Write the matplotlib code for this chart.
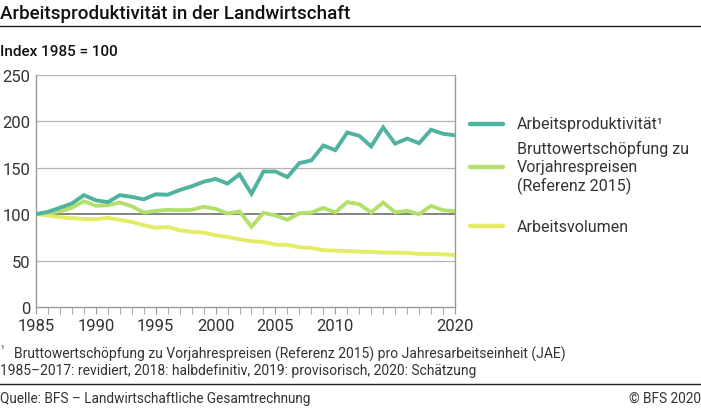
import numpy as np
import matplotlib.pyplot as plt
from matplotlib.lines import Line2D

plt.rcParams['font.family'] = ['Roboto', 'DejaVu Sans']

years = list(range(1985, 2021))
produktivitaet = [100, 102.5, 107, 111.5, 120.5, 115, 113, 120.5, 118.7, 116,
                  121.5, 121, 126, 130, 135, 138, 133, 143, 122, 146,
                  146, 140, 155, 158, 174, 169, 188, 184.5, 173, 193.5,
                  176, 181.5, 176.5, 191, 186.7, 185]
wertschoepfung = [100, 102, 103, 107, 114, 109, 109.7, 112.6, 108.6, 101.8,
                  103.6, 104.7, 104.3, 104.7, 108, 105.8, 100.7, 103, 86.3, 101.4,
                  98.6, 94, 101, 101.8, 106.8, 102, 113, 110.8, 101.8, 112.6,
                  102, 103.6, 100, 109, 104.3, 103.2]
volumen = [100, 98.6, 96.8, 95.7, 95, 94.6, 96, 93.9, 91.7, 88.1,
           85.3, 86.3, 82.7, 81, 80.2, 77.3, 75.5, 73, 70.9, 70.1,
           67.3, 66.9, 64.4, 63.7, 61.2, 60.8, 60.4, 59.7, 59.4, 58.6,
           58.6, 58.3, 57.2, 57.2, 56.8, 55.8]

labels = ["Arbeitsproduktivität¹",
          "Bruttowertschöpfung zu\nVorjahrespreisen\n(Referenz 2015)",
          "Arbeitsvolumen"]
colors = ["#4fb3a0", "#b2e06a", "#e3ec62"]
xtick_years = [1985, 1990, 1995, 2000, 2005, 2010, 2020]
yticks = [0, 50, 100, 150, 200, 250]

fig = plt.figure(figsize=(7.01, 4.10), dpi=100)
ax = fig.add_axes([36 / 701, 1 - 308 / 410, 419 / 701, 232 / 410])

for v in yticks[1:]:
    ax.axhline(v, color="#6e6e6e" if v == 100 else "#b4b4b4",
               lw=1.2 if v == 100 else 0.9, zorder=1)

for series, c in zip([volumen, wertschoepfung, produktivitaet], colors[::-1]):
    ax.plot(years, series, color=c, lw=2.8, zorder=3, solid_joinstyle="miter")

ax.set_xlim(1985, 2020)
ax.set_ylim(0, 250)
ax.set_xticks(xtick_years)
ax.set_xticks(years, minor=True)
ax.set_yticks(yticks)
ax.tick_params(axis="x", which="both", direction="out", length=5, color="#9a9a9a",
               labelsize=12, labelcolor="#333333", pad=3)
ax.tick_params(axis="y", length=0, labelsize=12, labelcolor="#333333", pad=4)
ax.spines["top"].set_visible(False)
for s in ["left", "right", "bottom"]:
    ax.spines[s].set_color("#9a9a9a")
    ax.spines[s].set_linewidth(1.0)

# legend drawn by hand on the right
leg_y = [125, 168, 227]
for lab, c, yp in zip(labels, colors, leg_y):
    fy = 1 - yp / 410
    fig.add_artist(Line2D([470 / 701, 503 / 701], [fy, fy], color=c, lw=3.2,
                          solid_capstyle="round"))
    fig.text(517 / 701, fy, lab, fontsize=11.5, color="#333333", va="center",
             ha="left", linespacing=1.25)

fig.text(0, 1 - 14 / 410, "Arbeitsproduktivität in der Landwirtschaft",
         fontsize=13.5, fontweight="medium", va="center", ha="left", color="#111111")
fig.add_artist(Line2D([0, 1], [1 - 27 / 410] * 2, color="#222222", lw=1.0))
fig.text(0, 1 - 52 / 410, "Index 1985 = 100", fontsize=11, fontweight="medium",
         va="center", ha="left", color="#111111")

fig.text(0, 1 - 354 / 410, "¹", fontsize=7, va="bottom", ha="left", color="#333333")
fig.text(14 / 701, 1 - 354 / 410,
         "Bruttowertschöpfung zu Vorjahrespreisen (Referenz 2015) pro Jahresarbeitseinheit (JAE)",
         fontsize=10, va="center", ha="left", color="#333333")
fig.text(0, 1 - 371 / 410,
         "1985–2017: revidiert, 2018: halbdefinitiv, 2019: provisorisch, 2020: Schätzung",
         fontsize=10, va="center", ha="left", color="#333333")
fig.add_artist(Line2D([0, 1], [1 - 385 / 410] * 2, color="#222222", lw=1.0))
fig.text(0, 1 - 399 / 410, "Quelle: BFS – Landwirtschaftliche Gesamtrechnung",
         fontsize=9.8, va="center", ha="left", color="#333333")
fig.text(1, 1 - 399 / 410, "© BFS 2020", fontsize=9.8, va="center", ha="right",
         color="#333333")

fig.savefig("out.png", dpi=100)
